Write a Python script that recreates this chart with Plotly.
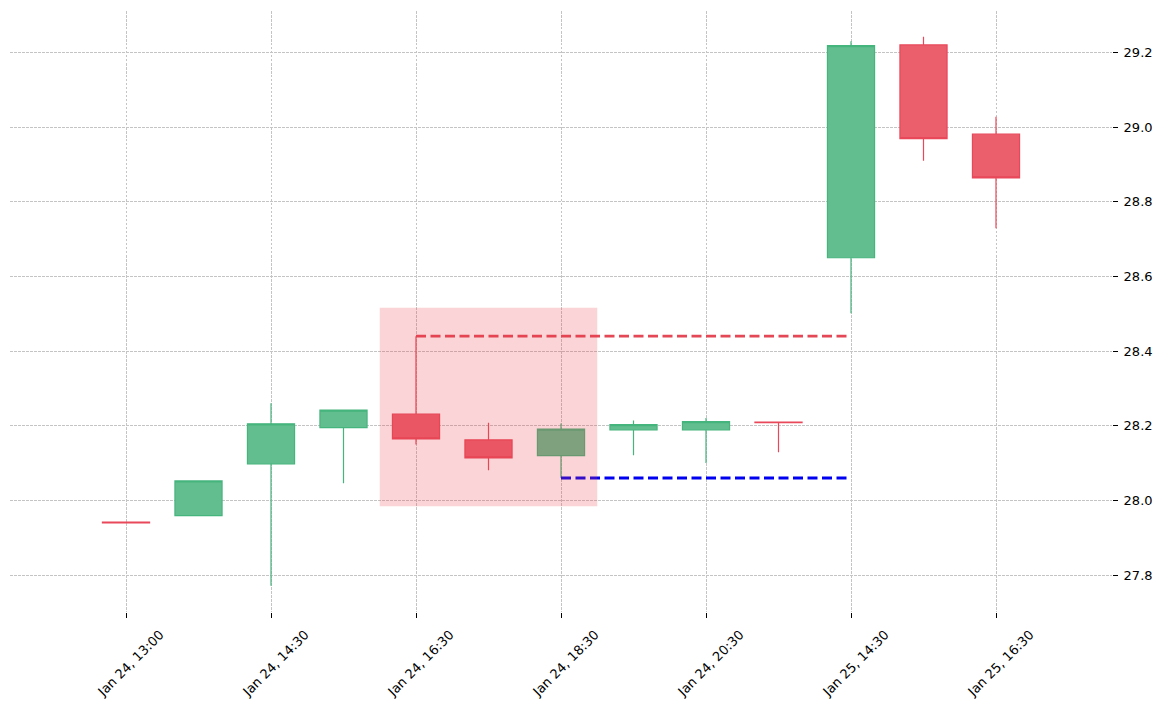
import plotly.graph_objects as go

# ---- data ----
times = ["Jan 24, 13:00", "Jan 24, 13:30", "Jan 24, 14:30", "Jan 24, 15:30",
         "Jan 24, 16:30", "Jan 24, 17:30", "Jan 24, 18:30", "Jan 24, 19:30",
         "Jan 24, 20:30", "Jan 24, 21:30", "Jan 25, 14:30", "Jan 25, 15:30",
         "Jan 25, 16:30"]
opens  = [27.942, 27.959, 28.098, 28.195, 28.231, 28.162, 28.120, 28.189, 28.189, 28.210, 28.650, 29.220, 28.981]
highs  = [27.942, 28.052, 28.260, 28.242, 28.440, 28.208, 28.206, 28.214, 28.221, 28.210, 29.230, 29.242, 29.028]
lows   = [27.940, 27.959, 27.771, 28.046, 28.150, 28.081, 28.060, 28.121, 28.100, 28.129, 28.501, 28.910, 28.729]
closes = [27.940, 28.052, 28.205, 28.242, 28.165, 28.114, 28.191, 28.203, 28.211, 28.208, 29.218, 28.969, 28.864]

pattern_start = 4   # first candle of pattern
pattern_end = 6     # last candle of pattern
line_end = 10       # where the level lines stop

xs = list(range(len(times)))
tick_idx = xs[::2]
tick_text = [times[i] for i in tick_idx]

resistance = highs[pattern_start]
support = lows[pattern_end]
pad = 0.2 * (resistance - support)

fig = go.Figure()
fig.add_trace(go.Candlestick(
    x=xs, open=opens, high=highs, low=lows, close=closes,
    increasing=dict(line=dict(color="rgb(70,180,125)", width=1.2), fillcolor="rgb(99,190,143)"),
    decreasing=dict(line=dict(color="rgb(232,72,90)", width=1.2), fillcolor="rgb(235,94,108)"),
    whiskerwidth=0, showlegend=False, hoverinfo="skip",
))

fig.add_trace(go.Scatter(
    x=[xs[pattern_start], xs[line_end]], y=[resistance, resistance], mode="lines",
    line=dict(color="rgb(228,72,86)", width=2.8, dash="10px,4.5px"), showlegend=False, hoverinfo="skip"))
fig.add_trace(go.Scatter(
    x=[xs[pattern_end], xs[line_end]], y=[support, support], mode="lines",
    line=dict(color="rgb(0,0,240)", width=2.8, dash="10px,4.5px"), showlegend=False, hoverinfo="skip"))

fig.add_shape(type="rect", xref="x", yref="y",
              x0=xs[pattern_start] - 0.5, x1=xs[pattern_end] + 0.5,
              y0=support - pad, y1=resistance + pad,
              fillcolor="rgba(230,57,70,0.22)", line=dict(width=0), layer="above")

grid = dict(showgrid=True, gridcolor="#c4c4c4", gridwidth=0.6, griddash="2.5px,1.5px")
fig.update_layout(
    width=1171, height=708,
    margin=dict(l=2, r=67, t=3, b=104),
    paper_bgcolor="white", plot_bgcolor="white",
    font=dict(family="DejaVu Sans", size=13, color="black"),
    boxgap=0.35, boxgroupgap=0,
    showlegend=False,
    xaxis=dict(range=[-1.6, 13.6], tickmode="array", tickvals=tick_idx, ticktext=tick_text,
               tickangle=-45, ticks="outside", ticklen=5, tickcolor="black", tickwidth=1,
               showline=False, zeroline=False, rangeslider=dict(visible=False),
               ticklabelshift=34, ticklabelstandoff=4, **grid),
    yaxis=dict(range=[27.701, 29.311], side="right", dtick=0.2, tick0=27.8, tickformat=".1f",
               ticks="outside", ticklen=5, tickcolor="black", tickwidth=1,
               ticklabelstandoff=3,
               showline=False, zeroline=False, **grid),
)

fig.write_html("out.html")
